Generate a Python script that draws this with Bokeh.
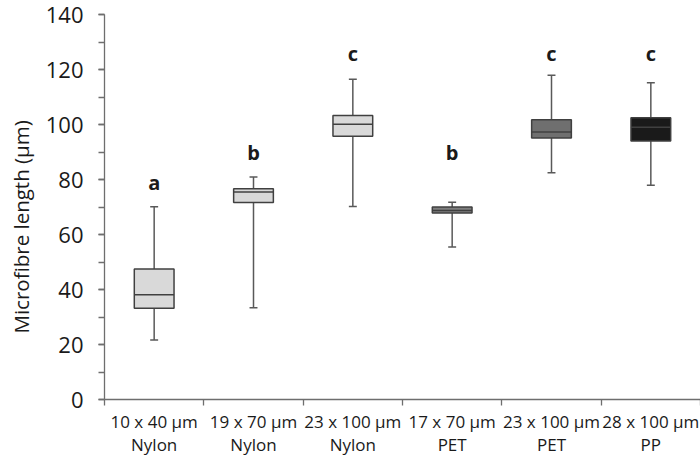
from bokeh.plotting import figure
from bokeh.models import ColumnDataSource, FixedTicker, SingleIntervalTicker, Range1d, Title
from bokeh.core.properties import value
from bokeh.embed import file_html
from bokeh.resources import INLINE

# ---- data ----
categories = ["10 x 40 µm\nNylon", "19 x 70 µm\nNylon", "23 x 100 µm\nNylon",
              "17 x 70 µm\nPET", "23 x 100 µm\nPET", "28 x 100 µm\nPP"]
whisker_low = [21.6, 33.4, 70.2, 55.5, 82.5, 77.9]
q1 = [33.2, 71.6, 95.7, 67.8, 95.1, 94.0]
median = [38.1, 75.5, 100.1, 68.7, 97.3, 99.0]
q3 = [47.5, 76.6, 103.3, 70.0, 101.7, 102.5]
whisker_high = [70.1, 80.9, 116.5, 71.7, 117.9, 115.2]
letters = ["a", "b", "c", "b", "c", "c"]
letter_y = [78.9, 89.9, 125.8, 90.0, 125.8, 125.8]
box_colors = ["#d9d9d9", "#d9d9d9", "#d9d9d9", "#7f7f7f", "#6f6f6f", "#1a1a1a"]
y_title = "Microfibre length (µm)"

FONT = "Open Sans"
xs = [i + 0.5 for i in range(len(categories))]
box_w = 0.40
cap_w = 0.08

src = ColumnDataSource(dict(
    x=xs, lo=whisker_low, q1=q1, med=median, q3=q3, hi=whisker_high,
    color=box_colors, letter=letters, ly=letter_y,
    xl=[x - box_w / 2 for x in xs], xr=[x + box_w / 2 for x in xs],
    cl=[x - cap_w / 2 for x in xs], cr=[x + cap_w / 2 for x in xs],
))

p = figure(width=700, height=458, output_backend="svg", toolbar_location=None,
           x_range=Range1d(0, 6), y_range=Range1d(0, 140),
           min_border_left=103, min_border_right=0, min_border_top=14, min_border_bottom=59)
p.outline_line_color = None
p.xgrid.visible = False
p.ygrid.visible = False

# whiskers
p.segment(x0="x", y0="lo", x1="x", y1="q1", source=src, line_color="#595959", line_width=1.5)
p.segment(x0="x", y0="q3", x1="x", y1="hi", source=src, line_color="#595959", line_width=1.5)
p.segment(x0="cl", y0="lo", x1="cr", y1="lo", source=src, line_color="#595959", line_width=1.5)
p.segment(x0="cl", y0="hi", x1="cr", y1="hi", source=src, line_color="#595959", line_width=1.5)
# boxes
p.vbar(x="x", width=box_w, bottom="q1", top="q3", source=src,
       fill_color="color", line_color="#404040", line_width=1.5)
p.segment(x0="xl", y0="med", x1="xr", y1="med", source=src, line_color="#404040", line_width=1.5)
# significance letters
p.text(x="x", y="ly", text="letter", source=src, text_font=value(FONT),
       text_font_style="bold", text_font_size="20px", text_color="#1a1a1a",
       text_align="center", text_baseline="middle")

# y axis title, as a side title so that it can sit a little below the frame centre
p.add_layout(Title(text=y_title, align="left", offset=66, standoff=12,
                   vertical_align="top",
                   text_font=FONT, text_font_size="20.5px", text_font_style="normal",
                   text_color="#1a1a1a"), "left")

# y axis
yax = p.yaxis[0]
yax.ticker = SingleIntervalTicker(interval=20, num_minor_ticks=2)
yax.major_label_text_font = FONT
yax.major_label_text_font_size = "22px"
yax.major_label_text_color = "#1a1a1a"
yax.major_label_standoff = 15
yax.axis_line_color = "#6e6e6e"
yax.axis_line_width = 1.3
yax.major_tick_line_color = "#6e6e6e"
yax.minor_tick_line_color = "#6e6e6e"
yax.major_tick_line_width = 1.3
yax.minor_tick_line_width = 1.3
yax.major_tick_in = 0
yax.major_tick_out = 6
yax.minor_tick_in = 0
yax.minor_tick_out = 6

# x axis
xax = p.xaxis[0]
xax.ticker = FixedTicker(ticks=xs, minor_ticks=list(range(len(categories) + 1)))
xax.major_label_overrides = {x: c for x, c in zip(xs, categories)}
xax.major_label_text_font = FONT
xax.major_label_text_font_size = "17px"
xax.major_label_text_line_height = 1.0
xax.major_label_text_color = "#1a1a1a"
xax.major_label_standoff = 4
xax.axis_line_color = "#6e6e6e"
xax.axis_line_width = 1.3
xax.major_tick_in = 0
xax.major_tick_out = 0
xax.minor_tick_in = 0
xax.minor_tick_out = 6
xax.minor_tick_line_color = "#6e6e6e"
xax.minor_tick_line_width = 1.3

open("out.html", "w").write(file_html(p, INLINE))
